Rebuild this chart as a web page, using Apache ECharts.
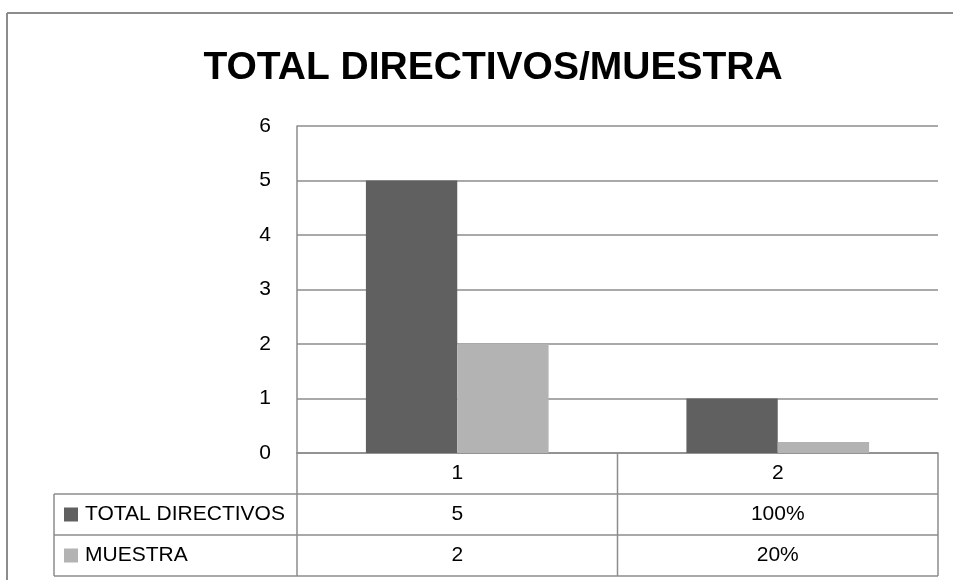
<!DOCTYPE html>
<html><head><meta charset="utf-8">
<script src="https://cdn.jsdelivr.net/npm/echarts@6/dist/echarts.min.js"></script>
<style>html,body{margin:0;padding:0;background:#fff}#c{width:953px;height:580px}</style>
</head><body><div id="c"></div>
<script>
const title = 'TOTAL DIRECTIVOS/MUESTRA';
const categories = ['1', '2'];
const seriesNames = ['TOTAL DIRECTIVOS', 'MUESTRA'];
const totalDirectivos = [5, 1];
const muestra = [2, 0.2];
const tableRows = [['5', '100%'], ['2', '20%']];
const colors = ['#606060', '#b3b3b3'];
const lineColor = '#8c8c8c';
const font = '"Liberation Sans", Arial, sans-serif';

const chart = echarts.init(document.getElementById('c'), null, {renderer: 'canvas'});
const G = {left: 297, right: 938, top: 126, bottom: 453};
const rowH = 41;
const legendLeft = 54;
const fs = 21;

function buildGraphics() {
  const els = [];
  const ln = (x1, y1, x2, y2, w) => els.push({type: 'line', shape: {x1, y1, x2, y2}, style: {stroke: lineColor, lineWidth: w || 1.5}, silent: true});
  ln(7, 13, 953, 13, 2);
  ln(7, 13, 7, 580, 2);
  const bounds = [G.left];
  const step = (G.right - G.left) / categories.length;
  for (let i = 1; i <= categories.length; i++) bounds.push(G.left + step * i);
  const yTop = G.bottom, y1 = yTop + rowH, y2 = y1 + rowH, y3 = y2 + rowH;
  ln(legendLeft, y1, G.right, y1);
  ln(legendLeft, y2, G.right, y2);
  ln(legendLeft, y3, G.right, y3);
  ln(legendLeft, y1, legendLeft, y3);
  bounds.forEach(x => ln(x, yTop, x, y3));
  categories.forEach((c, i) => {
    els.push({type: 'text', style: {text: c, x: (bounds[i] + bounds[i + 1]) / 2, y: (yTop + y1) / 2, align: 'center', verticalAlign: 'middle', font: fs + 'px ' + font, fill: '#000'}});
  });
  tableRows.forEach((row, r) => {
    const cy = y1 + rowH * r + rowH / 2;
    els.push({type: 'rect', shape: {x: 64, y: cy - 7, width: 14, height: 14}, style: {fill: colors[r]}});
    els.push({type: 'text', style: {text: seriesNames[r], x: 85, y: cy, align: 'left', verticalAlign: 'middle', font: fs + 'px ' + font, fill: '#000'}});
    row.forEach((v, i) => {
      els.push({type: 'text', style: {text: v, x: (bounds[i] + bounds[i + 1]) / 2, y: cy, align: 'center', verticalAlign: 'middle', font: fs + 'px ' + font, fill: '#000'}});
    });
  });
  return els;
}

chart.setOption({
  animation: false,
  backgroundColor: '#fff',
  title: {text: title, left: 488, textAlign: 'center', top: 44,
    textStyle: {fontFamily: font, fontWeight: 'bold', fontSize: 39, color: '#000'}},
  grid: {left: G.left, right: 953 - G.right, top: G.top, bottom: 580 - G.bottom, containLabel: false},
  xAxis: {type: 'category', data: categories, axisLabel: {show: false}, axisTick: {show: false},
    axisLine: {show: true, lineStyle: {color: lineColor, width: 1.5}}},
  yAxis: {type: 'value', min: 0, max: 6, interval: 1,
    axisLine: {show: true, lineStyle: {color: lineColor, width: 1.5}}, axisTick: {show: false},
    axisLabel: {fontFamily: font, fontSize: fs, color: '#000', margin: 26},
    splitLine: {show: true, lineStyle: {color: lineColor, width: 1.5}}},
  series: [
    {name: seriesNames[0], type: 'bar', data: totalDirectivos, barGap: '0%', barCategoryGap: '43%', itemStyle: {color: colors[0]}},
    {name: seriesNames[1], type: 'bar', data: muestra, barGap: '0%', barCategoryGap: '43%', itemStyle: {color: colors[1]}}
  ],
  graphic: buildGraphics()
});
</script></body></html>
